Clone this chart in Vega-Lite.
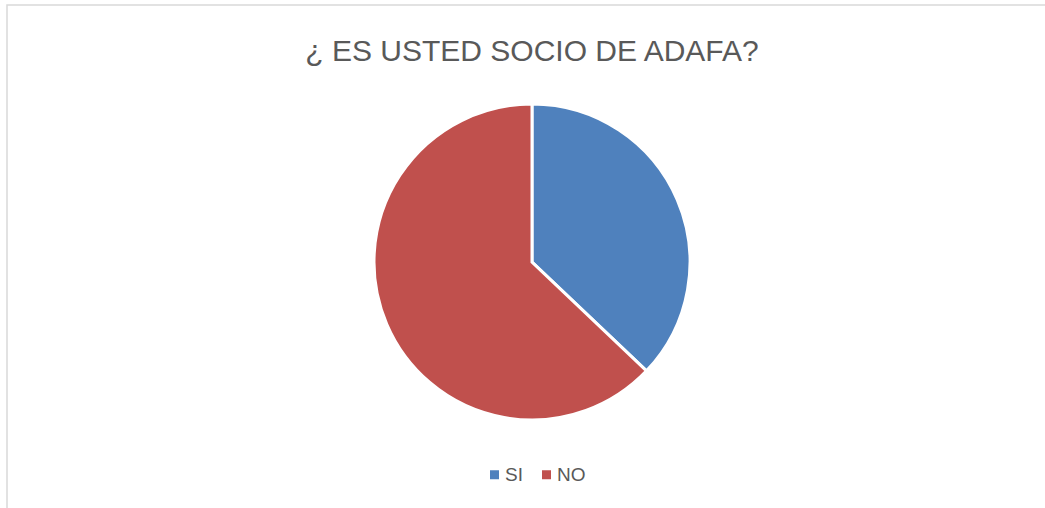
{
  "$schema": "https://vega.github.io/schema/vega-lite/v6.json",
  "width": 1050,
  "height": 514,
  "autosize": {"type": "none"},
  "padding": {"left": 7, "top": 5, "right": 0, "bottom": 0},
  "background": "white",
  "view": {"stroke": "#d9d9d9", "strokeWidth": 1.5},
  "config": {
    "font": "Liberation Sans"
  },
  "title": {
    "text": "¿ ES USTED SOCIO DE ADAFA?",
    "fontSize": 30,
    "fontWeight": "normal",
    "color": "#595959",
    "font": "Liberation Sans",
    "anchor": "middle",
    "offset": -62
  },
  "data": {
    "values": [
      {"respuesta": "SI", "valor": 37.1, "orden": 1},
      {"respuesta": "NO", "valor": 62.9, "orden": 2}
    ]
  },
  "mark": {"type": "arc", "outerRadius": 158, "stroke": "white", "strokeWidth": 3},
  "encoding": {
    "theta": {"field": "valor", "type": "quantitative", "stack": true},
    "order": {"field": "orden", "type": "quantitative"},
    "color": {
      "field": "respuesta",
      "type": "nominal",
      "scale": {"domain": ["SI", "NO"], "range": ["#4F81BD", "#C0504D"]},
      "legend": {
        "title": null,
        "orient": "none",
        "direction": "horizontal",
        "legendX": 478,
        "legendY": 460,
        "symbolType": "square",
        "symbolSize": 81,
        "symbolStrokeWidth": 0,
        "labelFontSize": 19,
        "labelOffset": 1,
        "labelColor": "#595959",
        "labelFont": "Liberation Sans",
        "columnPadding": 14
      }
    }
  }
}
